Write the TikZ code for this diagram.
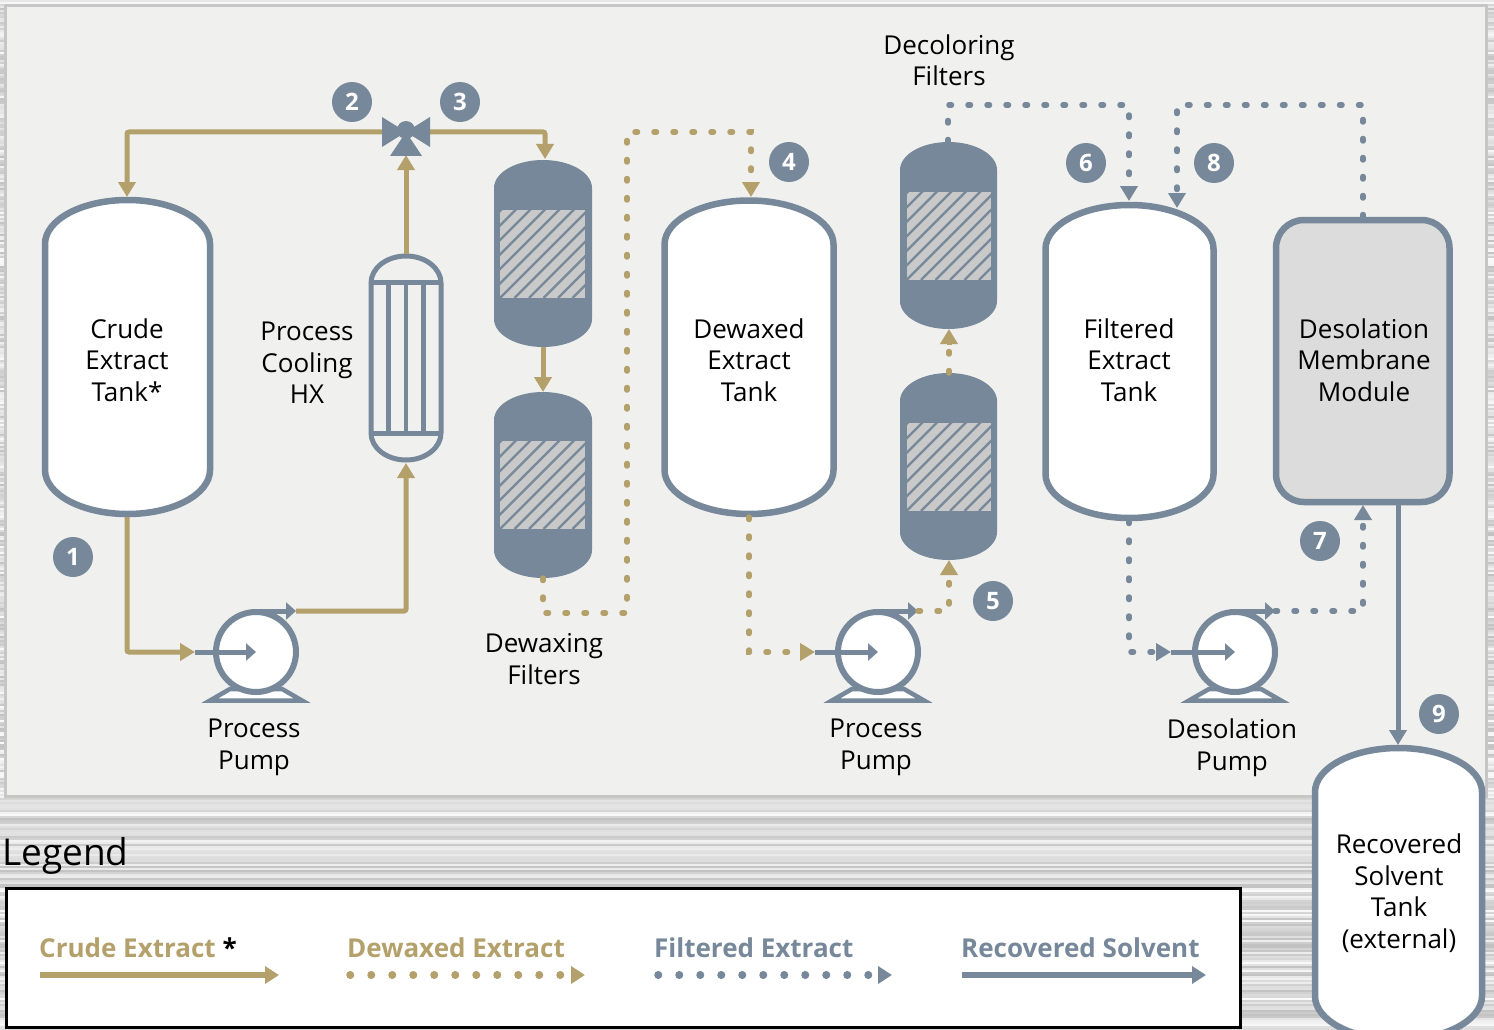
\documentclass[tikz,border=0pt]{standalone}
\usepackage{fontspec}
\setmainfont{Open Sans}
\usetikzlibrary{arrows.meta}
\definecolor{steel}{HTML}{768899}
\definecolor{gold}{HTML}{B4A06A}
\definecolor{panelfill}{HTML}{F0F0EE}
\definecolor{hatchfill}{HTML}{C8C9C8}
\definecolor{modfill}{HTML}{DCDCDC}
\definecolor{panelborder}{HTML}{C6C6C6}

\newcommand{\vessel}[6]{%
  \pgfmathsetmacro{\vxc}{(#2+#3)/2}%
  \pgfmathsetmacro{\vk}{0.552*(#3-#2)/2}%
  \pgfmathsetmacro{\vka}{\vxc-\vk}%
  \pgfmathsetmacro{\vkb}{\vxc+\vk}%
  \pgfmathsetmacro{\vtd}{#4+#6}%
  \pgfmathsetmacro{\vtc}{#4+0.448*#6}%
  \pgfmathsetmacro{\vbd}{#5-#6}%
  \pgfmathsetmacro{\vbc}{#5-0.448*#6}%
  \path[#1] (#2,\vtd) .. controls (#2,\vtc) and (\vka,#4) .. (\vxc,#4)
     .. controls (\vkb,#4) and (#3,\vtc) .. (#3,\vtd)
     -- (#3,\vbd) .. controls (#3,\vbc) and (\vkb,#5) .. (\vxc,#5)
     .. controls (\vka,#5) and (#2,\vbc) .. (#2,\vbd) -- cycle;
}
\newcommand{\hatchbox}[4]{%
  \fill[hatchfill] (#1,#2) rectangle (#3,#4);
  \begin{scope}
    \clip (#1,#2) rectangle (#3,#4);
    \foreach \k in {-7,...,7} \draw[steel,line width=2.3] ({#1+\k*14.5},#4) -- ++(100,-100);
  \end{scope}}
\newcommand{\pumpshape}[2]{%
  \filldraw[fill=white,draw=steel,line width=4.5,line join=miter] ({#1-26},{#2+37}) -- ({#1+26},{#2+37}) -- ({#1+46},{#2+48.5}) -- ({#1-46},{#2+48.5}) -- cycle;
  \draw[steel,line width=6,fill=white] (#1,#2) circle (40pt);
}

\begin{document}
\begin{tikzpicture}[x=1pt,y=-1pt,
  tankstyle/.style={draw=steel,line width=6.5,fill=white},
  filterstyle/.style={fill=steel},
  goldline/.style={draw=gold,line width=5,rounded corners=2},
  goldflow/.style={goldline,-{Triangle[length=15pt,width=17pt]}},
  golddots/.style={draw=gold,line width=5.5,line cap=round,dash pattern=on 2.5pt off 16.5pt},
  steeldots/.style={draw=steel,line width=5.5,line cap=round,dash pattern=on 2.5pt off 16.5pt},
  steelflow/.style={draw=steel,line width=5,-{Triangle[length=15pt,width=17pt]}},
  pumparrow/.style={draw=steel,line width=5,-{Triangle[length=10pt,width=17pt]}},
  badge/.style={circle,fill=steel,text=white,minimum size=40pt,inner sep=0pt,font=\bfseries\fontsize{24}{24}\selectfont},
  lbl/.style={align=center,font=\fontsize{26}{31.5}\selectfont,text=black,inner sep=0pt},
  legtext/.style={anchor=west,inner sep=0pt,font=\bfseries\fontsize{26}{30}\selectfont},
  legarrow/.style={line width=6,-{Triangle[length=14pt,width=17pt]}},
  legdots/.style={line width=7.5,line cap=round,dash pattern=on 0.5pt off 20.5pt},
]
\useasboundingbox (0,0) rectangle (1494,1030);

% brushed metal background
\pgfmathsetseed{11}
\foreach \i in {0,...,514} {
  \pgfmathsetmacro{\g}{rnd*22+76}
  \fill[white!\g!black] (0,{2*\i}) rectangle (1494,{2*\i+2.3});
}
% panel
\draw[line width=3,draw=panelborder,fill=panelfill] (5.5,5.5) rectangle (1486,796.5);

% ---- vessels ----
\vessel{tankstyle}{45}{210}{200}{514}{44}
\vessel{tankstyle}{664.5}{833.5}{200.5}{514}{44}
\vessel{tankstyle}{1045.5}{1213.5}{205}{518}{44}
\vessel{tankstyle}{1315}{1482}{748}{1040}{44}
\draw[draw=steel,line width=6.5,fill=modfill,rounded corners=28] (1276,220) rectangle (1449.5,502);

% dewaxing filters
\vessel{filterstyle}{494}{592}{160}{347}{28}
\hatchbox{500}{210}{585}{298}
\vessel{filterstyle}{494}{592}{392}{578}{28}
\hatchbox{500}{441}{585}{529}
% decoloring filters
\vessel{filterstyle}{900}{997}{142}{329}{28}
\hatchbox{906.5}{192}{991}{280}
\vessel{filterstyle}{900}{997}{373}{560}{28}
\hatchbox{906.5}{423}{991}{511}

% heat exchanger
\vessel{draw=steel,line width=5}{371}{441}{256}{460}{27}
\draw[steel,line width=5] (371,282) -- (441,282) (371,433) -- (441,433);
\foreach \tx in {388.5,406,423.5} \draw[steel,line width=4.5] (\tx,282) -- (\tx,433);

% pumps
\pumpshape{256}{652}
\pumpshape{878}{652}
\pumpshape{1235}{652}

% ---- coordinates ----
\coordinate (valve) at (406,132);
\coordinate (valveL) at (127,132);
\coordinate (valveR) at (545,132);
\coordinate (valveB) at (406,155);
\coordinate (crudeTop) at (127,197);
\coordinate (crudeBot) at (127,517);
\coordinate (filtATop) at (545,159);
\coordinate (filtABot) at (543,347);
\coordinate (filtBTop) at (543,392);
\coordinate (filtBBot) at (543,578);
\coordinate (hxTop) at (406,254);
\coordinate (hxBot) at (406,463);
\coordinate (p1) at (256,652);
\coordinate (p1in) at (195,652);
\coordinate (p1top) at (256,611);
\coordinate (p1out) at (296,611);
\coordinate (dwTop) at (751,197);
\coordinate (dwBot) at (749,517);
\coordinate (p2) at (878,652);
\coordinate (p2in) at (815,652);
\coordinate (p2top) at (878,611);
\coordinate (p2out) at (918,611);
\coordinate (dcBTop) at (949,373);
\coordinate (dcBBot) at (949,560);
\coordinate (dcATop) at (948,142);
\coordinate (dcABot) at (949,329);
\coordinate (ftTop) at (1129,201);
\coordinate (ftTop2) at (1177,208);
\coordinate (ftBot) at (1129,521);
\coordinate (p3) at (1235,652);
\coordinate (p3in) at (1171,652);
\coordinate (p3top) at (1235,611);
\coordinate (p3out) at (1275,611);
\coordinate (modTop) at (1363,217);
\coordinate (modBot) at (1363,505);
\coordinate (modOut) at (1398,505);
\coordinate (recTop) at (1398,745);

% ---- connectors ----
\draw[goldflow] (valve) -- (valveL) -- (crudeTop);
\draw[goldflow] (valve) -- (valveR) -- (filtATop);
\draw[goldflow] (filtABot) -- (filtBTop);
\draw[goldflow] (hxTop) -- (valveB);
\draw[goldflow] (crudeBot) |- (p1in);
\draw[pumparrow] (p1in) -- (p1);
\draw[pumparrow] (p1top) -- (p1out);
\draw[goldflow] (p1out) -| (hxBot);
% valve
\fill[steel] (382,117) -- (382,147) -- (valve) -- cycle;
\fill[steel] (430,117) -- (430,147) -- (valve) -- cycle;
\fill[steel] (valve) -- (390,156) -- (422,156) -- cycle;
\fill[steel] (406,130) circle (9pt);

\draw[golddots] (filtBBot) -- (543,613) -- (627,613) -- (627,132) -- (751,132) -- (751,182);
\draw[goldflow] (751,182) -- (dwTop);
\draw[golddots] (dwBot) |- (800,652);
\draw[goldflow] (800,652) -- (p2in);
\draw[pumparrow] (p2in) -- (p2);
\draw[pumparrow] (p2top) -- (p2out);
\draw[golddots] (p2out) -| (949,575);
\draw[goldflow] (949,575) -- (dcBBot);
\draw[golddots] (dcBTop) -- (949,345);
\draw[goldflow] (949,345) -- (dcABot);

\draw[steeldots] (dcATop) -- (948,105) -- (1129,105) -- (1129,186);
\draw[steelflow] (1129,186) -- (ftTop);
\draw[steeldots] (modTop) -- (1363,105) -- (1177,105) -- (1177,193);
\draw[steelflow] (1177,193) -- (ftTop2);
\draw[steeldots] (ftBot) |- (1157,652);
\draw[steelflow] (1157,652) -- (p3in);
\draw[pumparrow] (p3in) -- (p3);
\draw[pumparrow] (p3top) -- (p3out);
\draw[steeldots] (p3out) -| (1363,520);
\draw[steelflow] (1363,520) -- (modBot);
\draw[steelflow] (modOut) -- (recTop);

% ---- badges ----
\node[badge] (b1) at (73,557) {1};
\node[badge] (b2) at (352,102) {2};
\node[badge] (b3) at (460,102) {3};
\node[badge] (b4) at (789,162) {4};
\node[badge] (b5) at (993,601) {5};
\node[badge] (b6) at (1086,163) {6};
\node[badge] (b7) at (1320,541) {7};
\node[badge] (b8) at (1214,163) {8};
\node[badge] (b9) at (1439,714) {9};

% ---- labels ----
\node[lbl] (tcrude) at (127,360) {Crude\\Extract\\Tank*};
\node[lbl] (thx) at (307,363) {Process\\Cooling\\HX};
\node[lbl] (tdw) at (749,360) {Dewaxed\\Extract\\Tank};
\node[lbl] (tft) at (1129,360) {Filtered\\Extract\\Tank};
\node[lbl] (tmod) at (1364,360) {Desolation\\Membrane\\Module};
\node[lbl] (trec) at (1399,893) {Recovered\\Solvent\\Tank\\(external)};
\node[lbl] (tdwf) at (544,659) {Dewaxing\\Filters};
\node[lbl] (tdcf) at (949,60.5) {Decoloring\\Filters};
\node[lbl] (tp1) at (254,747.5) {Process\\Pump};
\node[lbl] (tp2) at (876,747.5) {Process\\Pump};
\node[lbl] (tp3) at (1232,747.5) {Desolation\\Pump};

% ---- legend ----
\node[anchor=west,inner sep=0pt,font=\fontsize{37}{40}\selectfont] (legtitle) at (2,856) {Legend};
\draw[line width=3,fill=white] (6,888.5) rectangle (1240,1027.5);
\node[legtext,text=gold] (lg1) at (39,948) {Crude Extract \textcolor{black}{*}};
\node[legtext,text=gold] (lg2) at (347,948) {Dewaxed Extract};
\node[legtext,text=steel] (lg3) at (654,948) {Filtered Extract};
\node[legtext,text=steel] (lg4) at (961,948) {Recovered Solvent};
\coordinate (la1) at (40,975); \coordinate (lb1) at (279,975);
\coordinate (la2) at (350,975); \coordinate (lb2) at (585,975);
\coordinate (la3) at (658,975); \coordinate (lb3) at (892,975);
\coordinate (la4) at (962,975); \coordinate (lb4) at (1206,975);
\draw[legarrow,gold] (la1) -- (lb1);
\draw[legdots,gold] (la2) -- (561,975);
\draw[legarrow,gold] (571,975) -- (lb2);
\draw[legdots,steel] (la3) -- (869,975);
\draw[legarrow,steel] (878,975) -- (lb3);
\draw[legarrow,steel] (la4) -- (lb4);
\end{tikzpicture}
\end{document}
